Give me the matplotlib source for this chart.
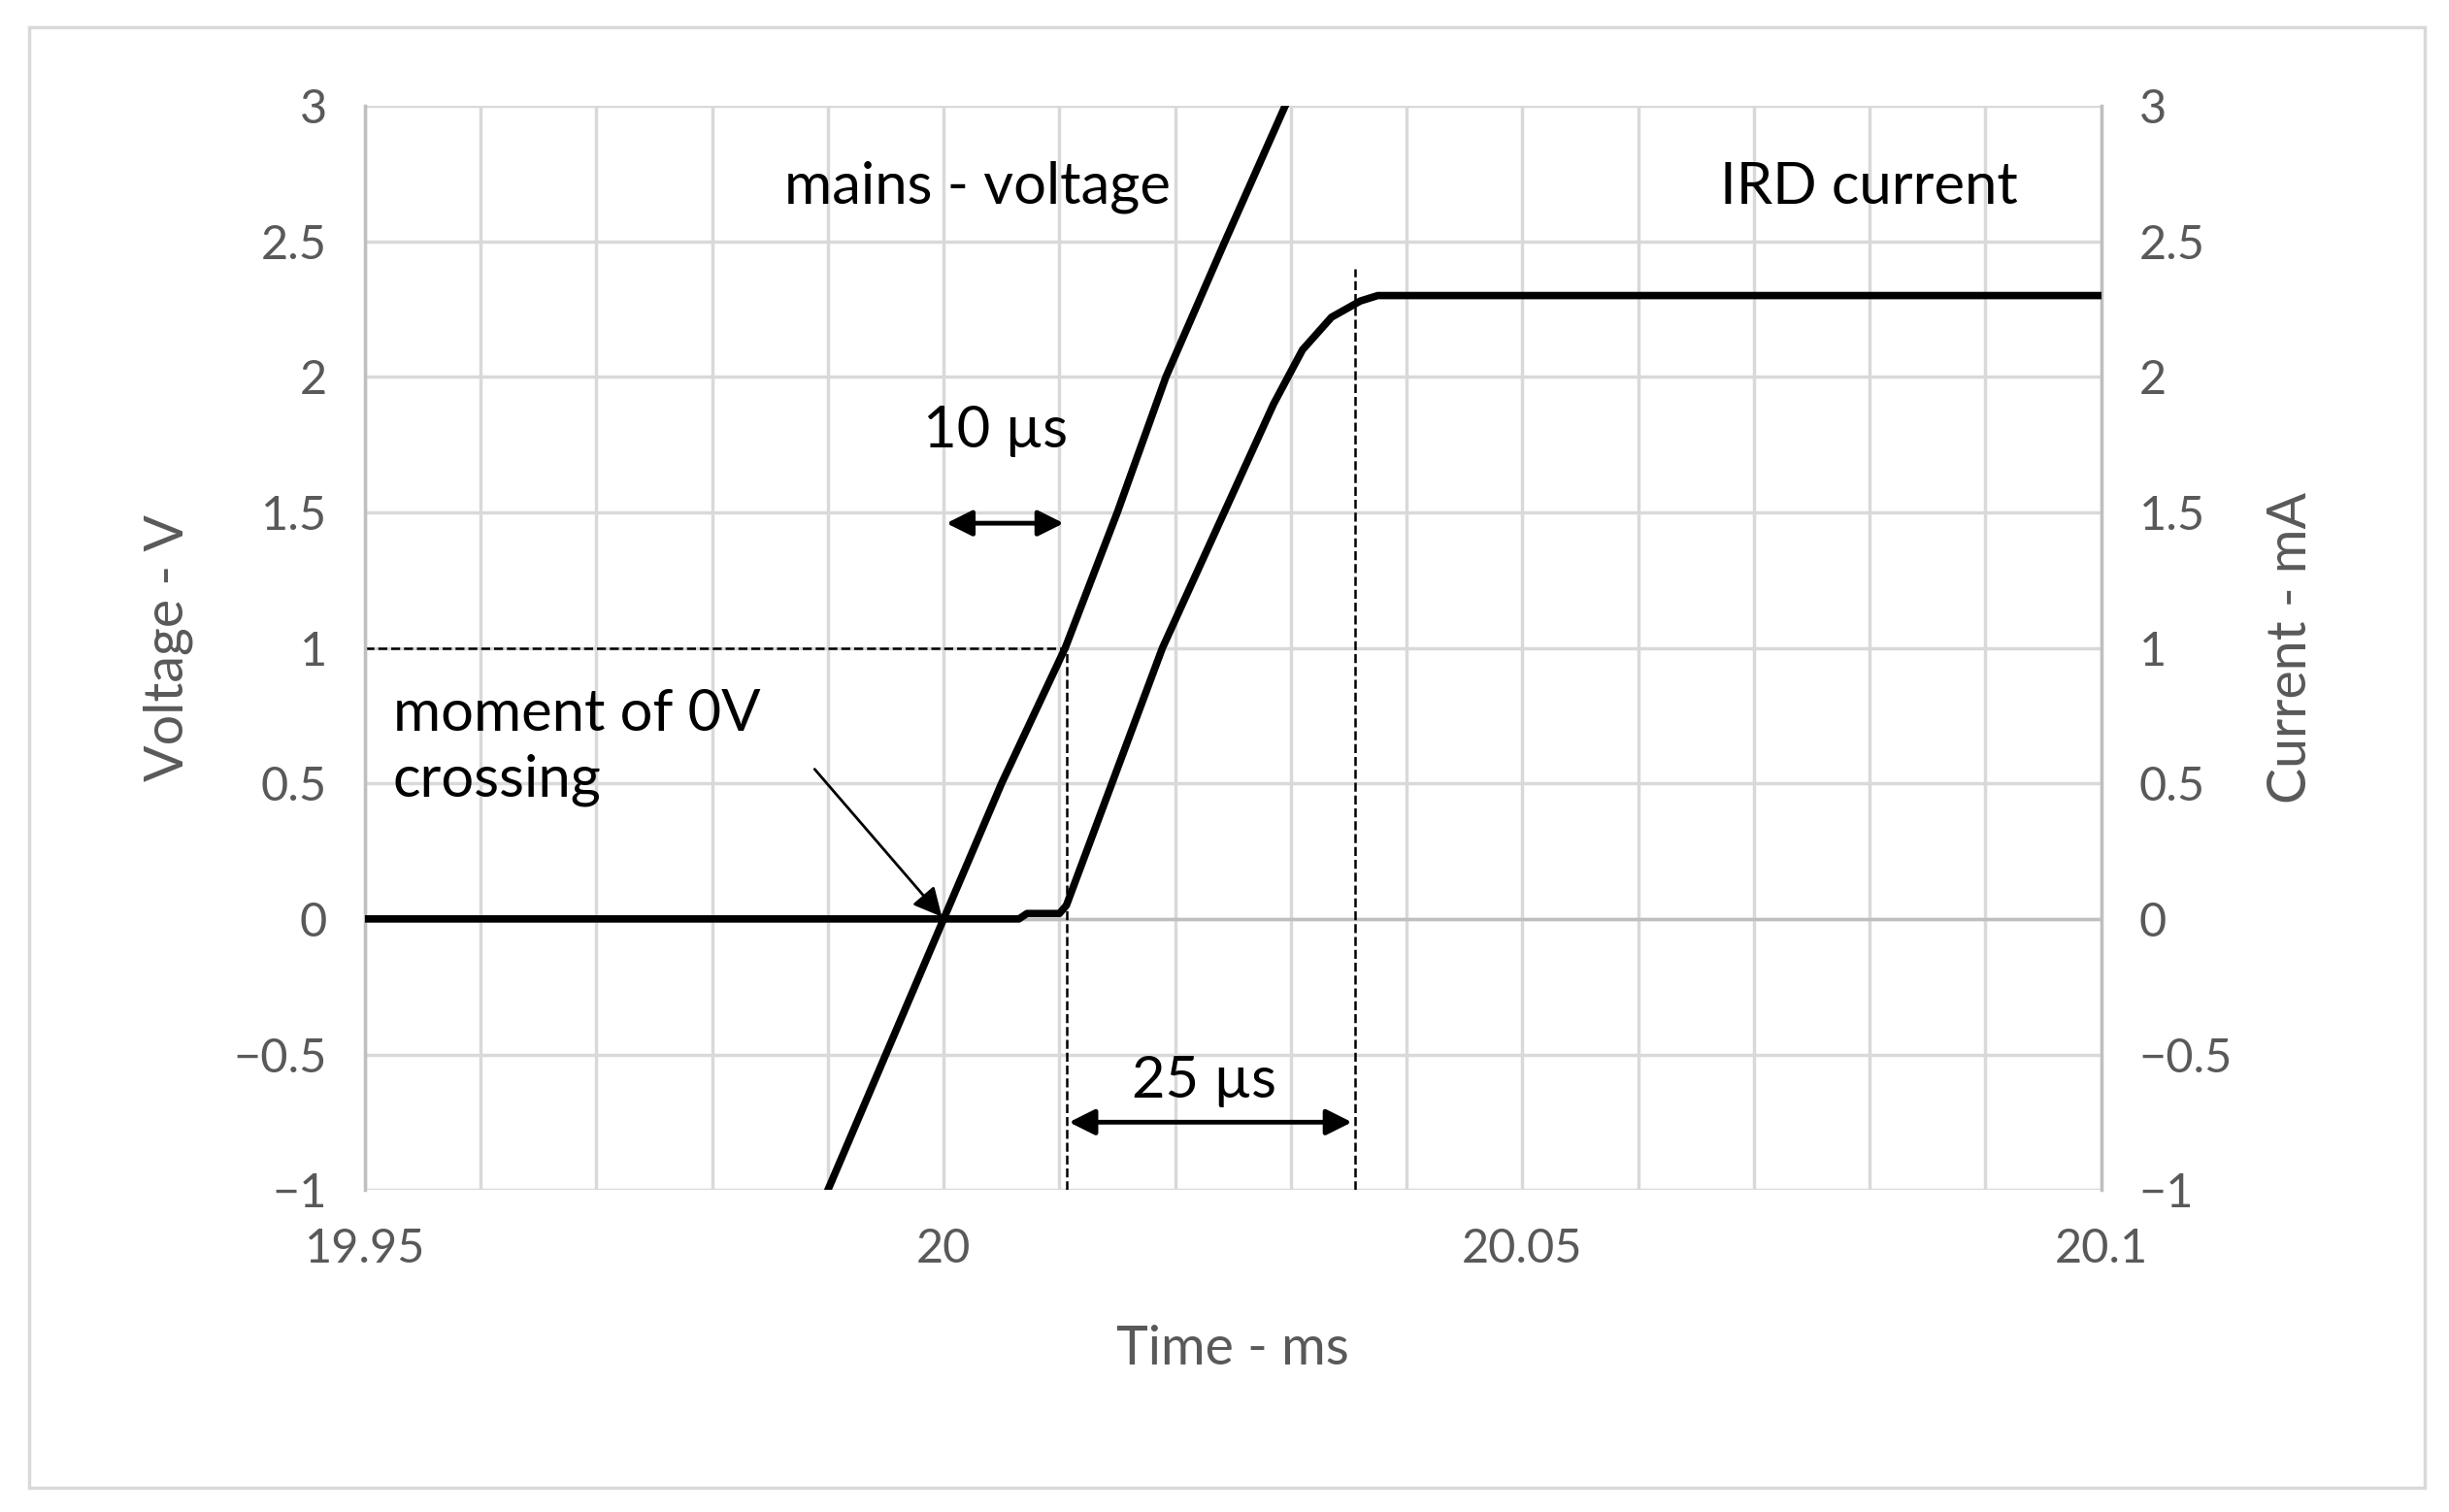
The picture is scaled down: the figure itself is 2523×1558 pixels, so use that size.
import matplotlib.pyplot as plt
from matplotlib.patches import Rectangle

plt.rcParams['font.family'] = ['Lato', 'DejaVu Sans']

# mains voltage (V) vs time (ms)
v_time = [19.990, 19.995, 20.000, 20.005, 20.0105, 20.015, 20.0192, 20.0243, 20.0295]
v_vals = [-1.0, -0.5, 0.0, 0.5, 1.0, 1.5, 2.0, 2.5, 3.0]

# IRD current (mA) vs time (ms)
i_time = [19.95, 20.0065, 20.0072, 20.0100, 20.0106, 20.0189, 20.0285, 20.0310, 20.0335, 20.0360, 20.0375, 20.1]
i_vals = [0.0, 0.0, 0.02, 0.02, 0.05, 1.0, 1.9, 2.1, 2.22, 2.28, 2.3, 2.3]

grey = '#595959'
fig = plt.figure(figsize=(25.23, 15.58), dpi=100)
ax = fig.add_axes([0.149, 0.213, 0.709, 0.717])
ax.set_xlim(19.95, 20.1)
ax.set_ylim(-1, 3)
ax.set_xticks([19.95, 20.0, 20.05, 20.1])
ax.set_xticklabels(['19.95', '20', '20.05', '20.1'])
ax.set_xticks([19.95 + 0.01 * k for k in range(16)], minor=True)
ylabels = ['\u22121', '\u22120.5', '0', '0.5', '1', '1.5', '2', '2.5', '3']
ax.set_yticks([-1, -0.5, 0, 0.5, 1, 1.5, 2, 2.5, 3])
ax.set_yticklabels(ylabels)
ax.grid(True, which='both', color='#d9d9d9', lw=2.5)
ax.set_axisbelow(True)
ax.tick_params(which='both', length=0, labelsize=35, colors=grey, pad=28)
for s in ['top', 'bottom']:
    ax.spines[s].set_visible(False)
for s in ['left', 'right']:
    ax.spines[s].set_color('#bfbfbf')
    ax.spines[s].set_linewidth(2.5)
ax.axhline(0, color='#bfbfbf', lw=2.5)
ax.set_xlabel('Time - ms', fontsize=40, color=grey, labelpad=40)
ax.set_ylabel('Voltage - V', fontsize=40, color=grey, labelpad=30)

ax2 = ax.twinx()
ax2.set_ylim(-1, 3)
ax2.set_yticks([-1, -0.5, 0, 0.5, 1, 1.5, 2, 2.5, 3])
ax2.set_yticklabels(ylabels)
ax2.tick_params(length=0, labelsize=35, colors=grey, pad=28)
for s in ax2.spines.values():
    s.set_visible(False)
ax2.set_ylabel('Current - mA', fontsize=40, color=grey, labelpad=25)

ax.plot(v_time, v_vals, color='black', lw=5.5)
ax2.plot(i_time, i_vals, color='black', lw=5.5)

# dashed markers
ax.plot([19.95, 20.0106], [1, 1], 'k--', lw=1.8)
ax.plot([20.0106, 20.0106], [-1, 1], 'k--', lw=1.8)
ax.plot([20.0355, 20.0355], [-1, 2.4], 'k--', lw=1.8)

arr = dict(arrowstyle='<|-|>', color='black', lw=3.5, mutation_scale=40)
ax.annotate('', xy=(20.0, 1.46), xytext=(20.0106, 1.46), arrowprops=arr)
ax.annotate('', xy=(20.0106, -0.75), xytext=(20.0355, -0.75), arrowprops=arr)
ax.text(20.0045, 1.8, '10 µs', fontsize=43, ha='center', va='center')
ax.text(20.0225, -0.6, '25 µs', fontsize=43, ha='center', va='center')
ax.text(20.0029, 2.7, 'mains - voltage', fontsize=43, ha='center', va='center')
ax.text(20.0799, 2.7, 'IRD current', fontsize=43, ha='center', va='center')
ax.text(19.9524, 0.85, 'moment of 0V\ncrossing', fontsize=43, ha='left', va='top',
        linespacing=1.3)
ax.annotate('', xy=(20.0, 0.0), xytext=(19.9887, 0.56),
            arrowprops=dict(arrowstyle='-|>', color='black', lw=2, mutation_scale=45))

fig.patches.append(Rectangle((0.012, 0.016), 0.978, 0.966, transform=fig.transFigure,
                             fill=False, edgecolor='#d9d9d9', lw=2.5))
fig.savefig('out.png', dpi=100)
